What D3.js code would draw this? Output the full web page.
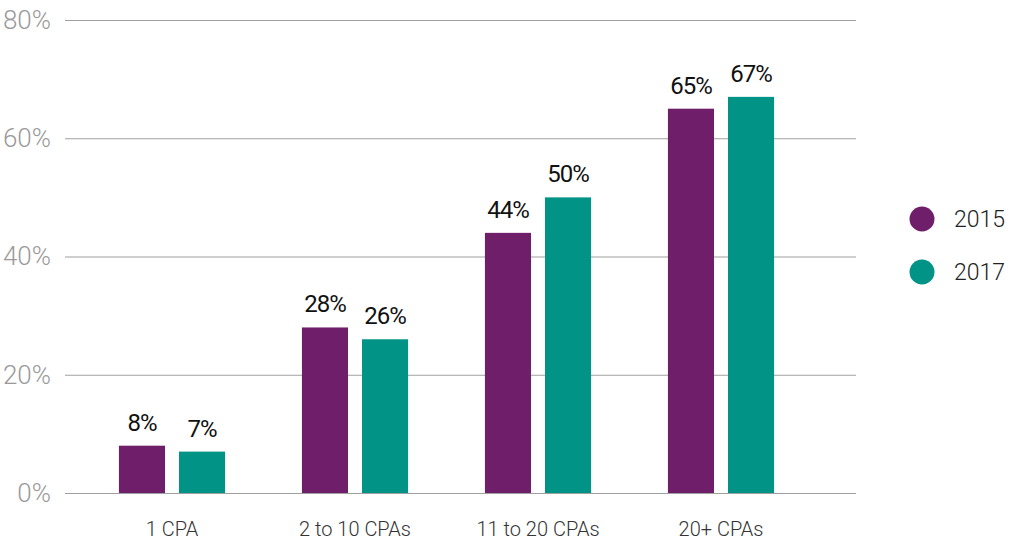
<!DOCTYPE html>
<html>
<head>
<meta charset="utf-8">
<script src="https://cdn.jsdelivr.net/npm/d3@7"></script>
<style>
  body { margin: 0; background: #fff; }
  svg { display: block; font-family: "Roboto", sans-serif; }
</style>
</head>
<body>
<svg id="chart" width="1011" height="544"></svg>
<script>
// Share of firms by number of CPAs, 2015 vs 2017
const categories = ["1 CPA", "2 to 10 CPAs", "11 to 20 CPAs", "20+ CPAs"];
const seriesNames = ["2015", "2017"];
const values2015 = [8, 28, 44, 65];
const values2017 = [7, 26, 50, 67];
const yTicks = [0, 20, 40, 60, 80];

const colors = { "2015": "#6f1f6a", "2017": "#009386" };

const svg = d3.select("#chart");

const y = d3.scaleLinear().domain([0, 80]).range([493, 20]);
const x0 = d3.scaleBand().domain(categories).range([80.5, 812.5])
  .paddingInner(0.42).paddingOuter(0.21);
const x1 = d3.scaleBand().domain(seriesNames).range([0, x0.bandwidth()])
  .paddingInner(0.233);

const rows = categories.map((c, i) => ({
  category: c,
  items: [
    { series: "2015", value: values2015[i] },
    { series: "2017", value: values2017[i] }
  ]
}));

// Horizontal gridlines with percentage labels
const yAxis = d3.axisLeft(y).tickValues(yTicks).tickFormat(d => d + "%")
  .tickSize(-(856 - 65)).tickPadding(14);
const gy = svg.append("g").attr("transform", "translate(65,0)").call(yAxis);
gy.select(".domain").remove();
gy.selectAll(".tick line").attr("stroke", "#a0a0a0").attr("stroke-width", 1.2);
gy.selectAll(".tick text")
  .attr("fill", "#9a9a9a")
  .attr("font-family", "Roboto")
  .attr("font-size", 26)
  .attr("font-weight", 300);

// Category labels under the bars
const xAxis = d3.axisBottom(x0).tickSize(0).tickPadding(0);
const gx = svg.append("g").attr("transform", "translate(0,522)").call(xAxis);
gx.select(".domain").remove();
gx.selectAll(".tick text")
  .attr("fill", "#333")
  .attr("font-family", "Roboto")
  .attr("font-size", 20)
  .attr("font-weight", 300)
  .attr("dy", "0.71em");

// Grouped bars
const groups = svg.append("g").selectAll("g")
  .data(rows).join("g")
  .attr("transform", d => `translate(${x0(d.category)},0)`);

groups.selectAll("rect")
  .data(d => d.items).join("rect")
  .attr("x", d => x1(d.series))
  .attr("width", x1.bandwidth())
  .attr("y", d => y(d.value))
  .attr("height", d => y(0) - y(d.value))
  .attr("fill", d => colors[d.series]);

// Value labels above each bar
groups.selectAll("text")
  .data(d => d.items).join("text")
  .attr("x", d => x1(d.series) + x1.bandwidth() / 2)
  .attr("y", d => y(d.value) - 15)
  .attr("text-anchor", "middle")
  .attr("fill", "#111")
  .attr("font-family", "Roboto")
  .attr("font-size", 24)
  .attr("letter-spacing", -1)
  .text(d => d.value + "%");

// Legend
const legend = svg.append("g").selectAll("g")
  .data(seriesNames).join("g")
  .attr("transform", (d, i) => `translate(922,${219 + i * 53})`);
legend.append("circle").attr("r", 12.5).attr("fill", d => colors[d]);
legend.append("text")
  .attr("x", 32).attr("y", 0).attr("dy", "0.36em")
  .attr("font-family", "Roboto")
  .attr("font-size", 23).attr("font-weight", 300).attr("fill", "#222")
  .text(d => d);
</script>
</body>
</html>
